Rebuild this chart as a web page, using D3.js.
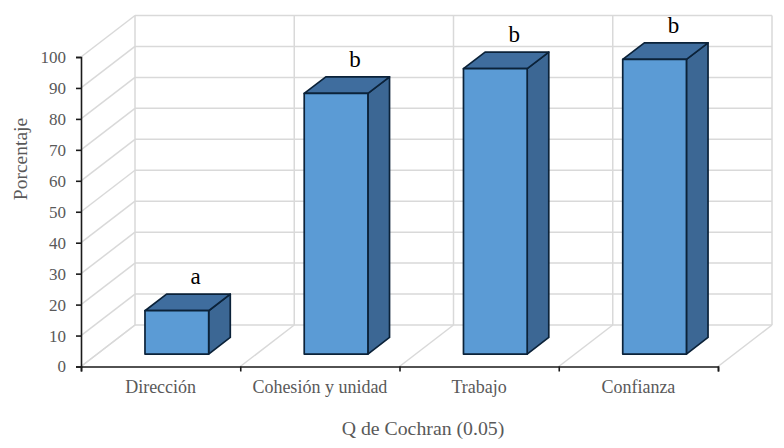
<!DOCTYPE html>
<html>
<head>
<meta charset="utf-8">
<script src="https://cdn.jsdelivr.net/npm/d3@7"></script>
<style>
html,body{margin:0;padding:0;background:#fff;}
svg{display:block;}
text{font-family:"Liberation Serif",serif;}
.axis text{fill:#595959;}
.label{fill:#595959;}
.letter{fill:#000;font-size:23px;}
</style>
</head>
<body>
<svg id="chart"></svg>
<script>
var categories=["Dirección","Cohesión y unidad","Trabajo","Confianza"]
var values=[14,84.2,92.2,95.2]
var letters=["a","b","b","b"]
var yTicks=[0,10,20,30,40,50,60,70,80,90,100]
var edges=[0,1,2,3,4]

var screen={width:784,height:448}
var margins={left:81,right:66,top:57,bottom:81.5}
var graph={
    width:screen.width-margins.left-margins.right,
    height:screen.height-margins.bottom-margins.top
}
//how far the back wall sits from the axes, and the bars inside that depth
var depth={x:54,y:-41.5}
var barNear=0.3
var barFar=0.7

var svg=d3.select("#chart")
    .attr("width",screen.width)
    .attr("height",screen.height)

var target=svg.append("g")
    .attr("transform","translate("+margins.left+","+margins.top+")")

var xScale=d3.scaleBand()
    .domain(categories)
    .range([0,graph.width])
    .paddingInner(0.6)
    .paddingOuter(0.3)
var xEdge=d3.scaleLinear()
    .domain([0,4])
    .range([0,graph.width])
var yScale=d3.scaleLinear()
    .domain([0,100])
    .range([graph.height,0])

//walls and floor
var grid=target.append("g")
    .attr("fill","none")
    .attr("stroke","#d9d9d9")
    .attr("stroke-width",1.5)
grid.selectAll(".back")
    .data(yTicks)
    .enter()
    .append("line")
    .attr("x1",depth.x)
    .attr("x2",graph.width+depth.x)
    .attr("y1",function(d){return yScale(d)+depth.y})
    .attr("y2",function(d){return yScale(d)+depth.y})
grid.selectAll(".side")
    .data(yTicks)
    .enter()
    .append("line")
    .attr("x1",0)
    .attr("x2",depth.x)
    .attr("y1",function(d){return yScale(d)})
    .attr("y2",function(d){return yScale(d)+depth.y})
grid.selectAll(".vert")
    .data(edges)
    .enter()
    .append("line")
    .attr("x1",function(d){return xEdge(d)+depth.x})
    .attr("x2",function(d){return xEdge(d)+depth.x})
    .attr("y1",yScale(0)+depth.y)
    .attr("y2",yScale(100)+depth.y)
grid.selectAll(".floor")
    .data(edges)
    .enter()
    .append("line")
    .attr("x1",function(d){return xEdge(d)})
    .attr("x2",function(d){return xEdge(d)+depth.x})
    .attr("y1",yScale(0))
    .attr("y2",yScale(0)+depth.y)

//bars, three faces each
var row=categories.map(function(name,i){
    return {name:name,value:values[i],letter:letters[i]}
})
var near={x:depth.x*barNear,y:depth.y*barNear}
var far={x:depth.x*(barFar-barNear),y:depth.y*(barFar-barNear)}
var poly=function(pts){
    return pts.map(function(p){return p.join(",")}).join(" ")
}
var bars=target.selectAll(".bar")
    .data(row)
    .enter()
    .append("g")
    .classed("bar",true)
    .attr("transform","translate("+near.x+","+near.y+")")
    .attr("stroke","#0b2239")
    .attr("stroke-width",1.7)
    .attr("stroke-linejoin","round")
bars.append("polygon")
    .attr("fill","#3c6794")
    .attr("points",function(d){
        var x1=xScale(d.name)+xScale.bandwidth()
        return poly([[x1,yScale(d.value)],[x1+far.x,yScale(d.value)+far.y],[x1+far.x,yScale(0)+far.y],[x1,yScale(0)]])
    })
bars.append("polygon")
    .attr("fill","#3f6d9e")
    .attr("points",function(d){
        var x0=xScale(d.name)
        var x1=x0+xScale.bandwidth()
        var y=yScale(d.value)
        return poly([[x0,y],[x0+far.x,y+far.y],[x1+far.x,y+far.y],[x1,y]])
    })
bars.append("rect")
    .attr("fill","#5b9bd5")
    .attr("x",function(d){return xScale(d.name)})
    .attr("y",function(d){return yScale(d.value)})
    .attr("width",xScale.bandwidth())
    .attr("height",function(d){return yScale(0)-yScale(d.value)})

//letters over the bars
target.selectAll(".letter")
    .data(row)
    .enter()
    .append("text")
    .classed("letter",true)
    .attr("text-anchor","middle")
    .attr("x",function(d){return xScale(d.name)+xScale.bandwidth()/2+near.x+far.x/2+8})
    .attr("y",function(d){return yScale(d.value)+near.y+far.y-10})
    .text(function(d){return d.letter})

//axes
var yAxis=d3.axisLeft(yScale).tickValues(yTicks).tickSize(5).tickPadding(10)
var edgeAxis=d3.axisBottom(xEdge).tickValues(edges).tickSize(5).tickFormat("")
var nameAxis=d3.axisBottom(xScale).tickSize(0).tickPadding(14)
var yg=target.append("g").classed("axis",true).call(yAxis)
target.append("g").classed("axis",true)
    .attr("transform","translate(0,"+graph.height+")").call(edgeAxis)
var ng=target.append("g").classed("axis",true)
    .attr("transform","translate(0,"+graph.height+")").call(nameAxis)
ng.select(".domain").remove()
yg.selectAll("text").style("font-family","Liberation Serif").style("font-size","17px")
ng.selectAll("text").style("font-family","Liberation Serif").style("font-size","18px")
svg.selectAll(".axis .domain,.axis line").attr("stroke","#1a1a1a").attr("stroke-width",1.6)

//titles
svg.append("text")
    .classed("label",true)
    .attr("text-anchor","middle")
    .attr("x",423)
    .attr("y",435)
    .style("font-size","19.8px")
    .text("Q de Cochran (0.05)")
svg.append("g")
    .attr("transform","translate(27,159)")
    .append("text")
    .classed("label",true)
    .attr("text-anchor","middle")
    .attr("transform","rotate(270)")
    .style("font-size","19.5px")
    .text("Porcentaje")
</script>
</body>
</html>
